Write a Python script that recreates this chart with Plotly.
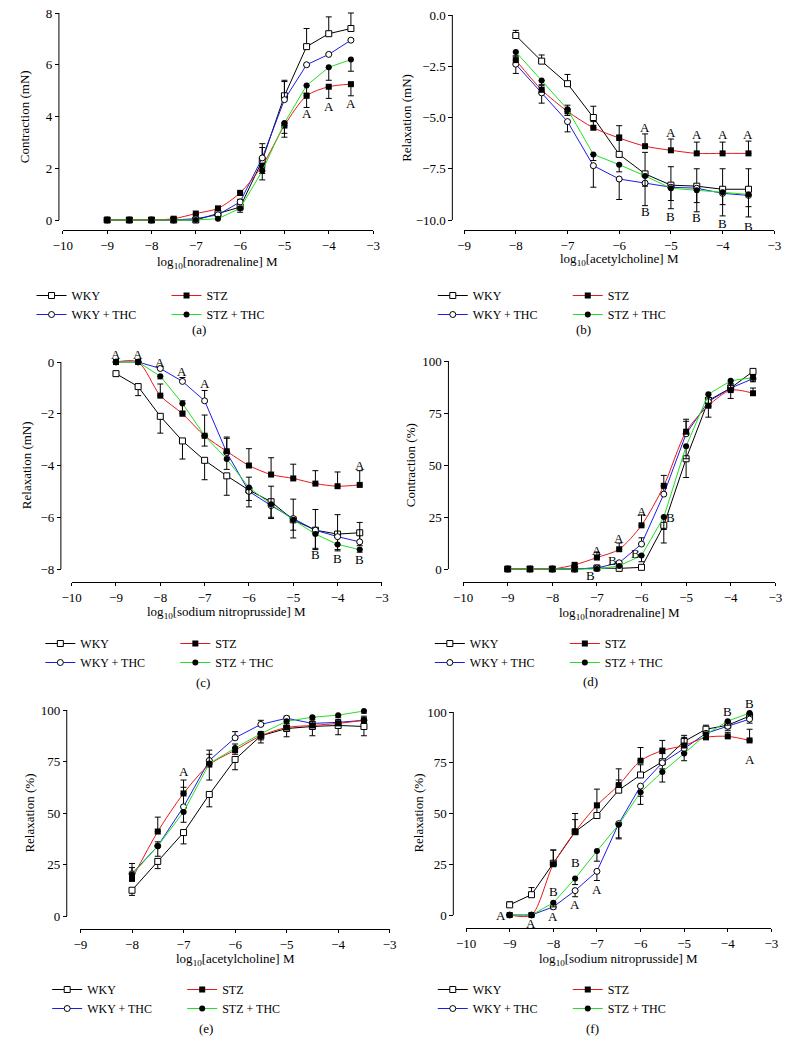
import plotly.graph_objects as go

W, H = 796, 1055
FONT = "Liberation Serif"

# ------------------------------------------------------------------ data
names = ["WKY", "WKY + THC", "STZ", "STZ + THC"]

# (a) noradrenaline, contraction (mN)
x_a = [-9, -8.5, -8, -7.5, -7, -6.5, -6, -5.5, -5, -4.5, -4, -3.5]
a_wky = [0, 0, 0, 0, 0, 0.25, 0.5, 2.3, 4.8, 6.7, 7.2, 7.4]
a_wky_thc = [0, 0, 0, 0, 0.05, 0.2, 0.7, 2.4, 4.65, 6.0, 6.4, 6.95]
a_stz = [0, 0, 0, 0.05, 0.25, 0.45, 1.05, 2.1, 3.65, 4.8, 5.15, 5.25]
a_stz_thc = [0, 0, 0, 0, 0, 0.05, 0.45, 1.9, 3.75, 5.2, 5.9, 6.2]
a_wky_err = [0, 0, 0, 0, 0, 0, 0.1, 0.65, 0.6, 0.7, 0.65, 0.6]
a_wky_thc_err = [0, 0, 0, 0, 0, 0, 0.1, 0.4, 0.7, 0, 0, 0]
a_stz_err = [0, 0, 0, 0, 0.05, 0.05, 0.1, 0.3, 0.45, 0.45, 0.45, 0.45]
a_stz_thc_err = [0, 0, 0, 0, 0, 0, 0.15, 0.35, 0.4, 0.3, 0.5, 0.45]
a_lab_x = [-4.5, -4, -3.5]
a_lab_y = [4.1, 4.4, 4.5]
a_lab_t = ["A", "A", "A"]

# (b) acetylcholine, relaxation (mN)
x_b = [-8, -7.5, -7, -6.5, -6, -5.5, -5, -4.5, -4, -3.5]
b_wky = [-1.0, -2.25, -3.35, -5.0, -6.8, -7.75, -8.3, -8.35, -8.5, -8.5]
b_wky_thc = [-2.4, -3.8, -5.2, -7.35, -8.0, -8.2, -8.4, -8.45, -8.7, -8.8]
b_stz = [-2.2, -3.65, -4.7, -5.5, -6.0, -6.4, -6.6, -6.75, -6.75, -6.75]
b_stz_thc = [-1.8, -3.2, -4.6, -6.8, -7.3, -7.85, -8.45, -8.55, -8.65, -8.75]
b_wky_err = [0.25, 0.3, 0.45, 0.55, 0.95, 1.05, 0.9, 0.85, 1.0, 1.0]
b_wky_thc_err = [0.45, 0.5, 0.5, 1.05, 1.0, 1.1, 1.05, 1.15, 1.1, 1.05]
b_stz_err = [0.2, 0.2, 0.3, 0.3, 0.6, 0.6, 0.55, 0.55, 0.55, 0.6]
b_stz_thc_err = [0.2, 0.2, 0.3, 0.3, 0.35, 0.5, 0.6, 0.6, 0.6, 0.6]
b_lab_x = [-5.5, -5, -4.5, -4, -3.5, -5.5, -5, -4.5, -4, -3.5]
b_lab_y = [-5.5, -5.75, -5.85, -5.85, -5.85, -9.6, -9.85, -9.9, -10.15, -10.3]
b_lab_t = ["A", "A", "A", "A", "A", "B", "B", "B", "B", "B"]

# (c) sodium nitroprusside, relaxation (mN)
x_c = [-9, -8.5, -8, -7.5, -7, -6.5, -6, -5.5, -5, -4.5, -4, -3.5]
c_wky = [-0.45, -0.95, -2.1, -3.05, -3.8, -4.4, -4.95, -5.4, -6.1, -6.5, -6.65, -6.6]
c_wky_thc = [0, 0, -0.25, -0.75, -1.5, -3.5, -5.0, -5.55, -6.05, -6.5, -6.75, -6.95]
c_stz = [0, 0, -1.3, -2.0, -2.85, -3.45, -4.0, -4.35, -4.5, -4.7, -4.8, -4.75]
c_stz_thc = [0, 0, -0.55, -1.6, -2.85, -3.75, -4.85, -5.5, -6.1, -6.65, -7.05, -7.25]
c_wky_err = [0.1, 0.35, 0.65, 0.7, 0.75, 0.75, 0.65, 0.65, 0.7, 0.7, 0.6, 0.5]
c_wky_thc_err = [0, 0, 0.05, 0.15, 0.4, 0.6, 0.55, 0.75, 0.75, 0.8, 0.85, 0.75]
c_stz_err = [0, 0, 0.45, 0.5, 0.8, 0.5, 0.65, 0.65, 0.55, 0.5, 0.55, 0.55]
c_stz_thc_err = [0, 0, 0.1, 0.3, 0.4, 0.4, 0.5, 0.5, 0.4, 0.6, 0.25, 0.1]
c_lab_x = [-9, -8.5, -8, -7.5, -7, -3.5, -4.5, -4, -3.5]
c_lab_y = [0.3, 0.3, 0.0, -0.35, -0.85, -4.0, -7.45, -7.6, -7.65]
c_lab_t = ["A", "A", "A", "A", "A", "A", "B", "B", "B"]

# (d) noradrenaline, contraction (%)
x_d = [-9, -8.5, -8, -7.5, -7, -6.5, -6, -5.5, -5, -4.5, -4, -3.5]
d_wky = [0, 0, 0, 0, 0.5, 0.3, 0.8, 21, 53, 81, 87, 95]
d_wky_thc = [0, 0, 0, 0, 0.5, 3, 12, 36, 65, 80.5, 87, 91.5]
d_stz = [0, 0, 0, 2, 5.5, 9.5, 21, 40, 66, 78.5, 86, 84.5]
d_stz_thc = [0, 0, 0, 0, 0, 1.5, 6.5, 25, 59, 84, 90.5, 92]
d_wky_err = [0, 0, 0, 0, 0, 0, 0, 8.5, 9, 8, 5, 2]
d_wky_thc_err = [0, 0, 0, 0, 0, 0.5, 3, 4, 7, 2, 2, 2]
d_stz_err = [0, 0, 0, 0.3, 2.5, 3, 5, 5, 5, 4, 3, 2.5]
d_stz_thc_err = [0, 0, 0, 0, 0, 0, 3, 6, 6, 6, 4, 2]
d_lab_x = [-7, -6.5, -6, -7.15, -6.64, -6.13, -5.35]
d_lab_y = [9, 14.7, 27.5, -3.2, 4.3, 7.5, 25]
d_lab_t = ["A", "A", "A", "B", "B", "B", "B"]

# (e) acetylcholine, relaxation (%)
x_e = [-8, -7.5, -7, -6.5, -6, -5.5, -5, -4.5, -4, -3.5]
e_wky = [12.5, 26.5, 40.5, 59, 76, 87.5, 91, 92, 92.5, 92]
e_wky_thc = [20.5, 34, 53, 75.5, 86.5, 93, 96, 93.5, 94, 95]
e_stz = [18, 41, 59.5, 73.5, 80.5, 87.5, 91.5, 92.5, 93.5, 95]
e_stz_thc = [20, 34, 50.5, 74, 81.5, 88.5, 94.5, 96.5, 97.5, 99.5]
e_wky_err = [2.5, 3.5, 5.5, 6, 5, 3.5, 4, 4.5, 4.5, 4.5]
e_wky_thc_err = [3, 2, 13, 3, 3, 2, 1, 1, 1, 1]
e_stz_err = [7.5, 7, 3, 7, 3, 2, 2, 2, 2, 2]
e_stz_thc_err = [2, 5, 5, 8, 3, 3, 2, 1, 1, 1]
e_lab_x = [-7]
e_lab_y = [70]
e_lab_t = ["A"]

# (f) sodium nitroprusside, relaxation (%)
x_f = [-9, -8.5, -8, -7.5, -7, -6.5, -6, -5.5, -5, -4.5, -4, -3.5]
f_wky = [5, 10, 25.5, 41, 49, 61.5, 69, 75.5, 85.5, 91.5, 93.5, 98]
f_wky_thc = [0, 0, 4, 12, 21.5, 45, 63.5, 75, 82, 89.5, 93, 96.5]
f_stz = [0, 0, 25, 41, 54, 64, 76, 81, 83.5, 87.5, 88, 86]
f_stz_thc = [0, 0, 6, 18, 31.5, 44.5, 60.5, 70.5, 79.5, 89, 95.5, 99.5]
f_wky_err = [1.5, 3.5, 6.5, 6, 6, 5, 5, 4, 3, 2, 2, 1]
f_wky_thc_err = [0, 0, 1, 3, 4.5, 7, 5, 3, 2, 2, 2, 2]
f_stz_err = [0, 0, 7, 9, 8, 8, 6.5, 5, 4, 2, 2, 5.5]
f_stz_thc_err = [0, 0, 2, 3, 5, 7, 6, 5, 3.5, 2, 2, 1]
f_lab_x = [-9.2, -8.5, -8, -8, -7.5, -7.5, -7, -4, -3.5, -3.5]
f_lab_y = [0, -4.4, 11.8, -0.8, 25.8, 5.3, 12.7, 100.3, 104, 76.5]
f_lab_t = ["A", "A", "B", "A", "B", "A", "A", "B", "B", "A"]

x_titles = ["noradrenaline", "acetylcholine", "sodium nitroprusside",
            "noradrenaline", "acetylcholine", "sodium nitroprusside"]
y_titles = ["Contraction (mN)", "Relaxation (mN)", "Relaxation (mN)",
            "Contraction (%)", "Relaxation (%)", "Relaxation (%)"]
panel_tags = ["(a)", "(b)", "(c)", "(d)", "(e)", "(f)"]

y_ticks_a = [0, 2, 4, 6, 8]
y_ticks_b = [0, -2.5, -5, -7.5, -10]
y_ticks_c = [0, -2, -4, -6, -8]
y_ticks_pct = [0, 25, 50, 75, 100]

# ------------------------------------------------------------------ styles
styles = [
    dict(color="black", shape="linear",
         marker=dict(symbol="square", size=6, color="white", line=dict(color="black", width=1)),
         group="g1"),
    dict(color="#1c1ce8", shape="linear",
         marker=dict(symbol="circle", size=6, color="white", line=dict(color="black", width=1)),
         group="g1"),
    dict(color="#e81818", shape="spline",
         marker=dict(symbol="square", size=6, color="black", line=dict(color="black", width=0)),
         group="g2"),
    dict(color="#22e022", shape="linear",
         marker=dict(symbol="circle", size=6, color="black", line=dict(color="black", width=0)),
         group="g2"),
]


def minus(v, fmt):
    return fmt.format(v).replace("-", "\u2212")


def fx(px):
    return px / W


def fy(py):
    return 1 - py / H


panels = [
    dict(x=x_a, ys=[a_wky, a_wky_thc, a_stz, a_stz_thc],
         errs=[a_wky_err, a_wky_thc_err, a_stz_err, a_stz_thc_err],
         dirs=[1, 1, -1, -1],
         lab=(a_lab_x, a_lab_y, a_lab_t), xr=(-10, -3), xp=(54, 371), xline=230,
         yt=y_ticks_a, yfmt="{:g}", ytop=(8, 13), ybot=(0, 220), yline=50, ypad=0.5,
         ytitle_x=15, xtitle_y=262, leg=(41, 294), tag=(193, 329)),
    dict(x=x_b, ys=[b_wky, b_wky_thc, b_stz, b_stz_thc],
         errs=[b_wky_err, b_wky_thc_err, b_stz_err, b_stz_thc_err],
         dirs=[1, -1, 1, -1],
         lab=(b_lab_x, b_lab_y, b_lab_t), xr=(-9, -3), xp=(464, 781), xline=230,
         yt=y_ticks_b, yfmt="{:.1f}", ytop=(0, 15), ybot=(-10, 220), yline=452, ypad=0.6,
         ytitle_x=405, xtitle_y=259, leg=(451, 294), tag=(586, 329)),
    dict(x=x_c, ys=[c_wky, c_wky_thc, c_stz, c_stz_thc],
         errs=[c_wky_err, c_wky_thc_err, c_stz_err, c_stz_thc_err],
         dirs=[-1, 1, 1, -1],
         lab=(c_lab_x, c_lab_y, c_lab_t), xr=(-10, -3), xp=(63, 380), xline=582,
         yt=y_ticks_c, yfmt="{:g}", ytop=(0, 362), ybot=(-8, 569), yline=52, ypad=0.5,
         ytitle_x=17, xtitle_y=612, leg=(50, 642), tag=(197, 682)),
    dict(x=x_d, ys=[d_wky, d_wky_thc, d_stz, d_stz_thc],
         errs=[d_wky_err, d_wky_thc_err, d_stz_err, d_stz_thc_err],
         dirs=[-1, 1, 1, -1],
         lab=(d_lab_x, d_lab_y, d_lab_t), xr=(-10, -3), xp=(463, 782), xline=582,
         yt=y_ticks_pct, yfmt="{:g}", ytop=(100, 361), ybot=(0, 569), yline=448, ypad=6,
         ytitle_x=409, xtitle_y=613, leg=(448, 642), tag=(593, 681)),
    dict(x=x_e, ys=[e_wky, e_wky_thc, e_stz, e_stz_thc],
         errs=[e_wky_err, e_wky_thc_err, e_stz_err, e_stz_thc_err],
         dirs=[-1, 1, 1, -1],
         lab=(e_lab_x, e_lab_y, e_lab_t), xr=(-9, -3), xp=(72, 388), xline=929,
         yt=y_ticks_pct, yfmt="{:g}", ytop=(100, 710), ybot=(0, 916), yline=58, ypad=6,
         ytitle_x=19, xtitle_y=959, leg=(57, 988), tag=(200, 1028)),
    dict(x=x_f, ys=[f_wky, f_wky_thc, f_stz, f_stz_thc],
         errs=[f_wky_err, f_wky_thc_err, f_stz_err, f_stz_thc_err],
         dirs=[1, -1, 1, -1],
         lab=(f_lab_x, f_lab_y, f_lab_t), xr=(-10, -3), xp=(466, 778), xline=928,
         yt=y_ticks_pct, yfmt="{:g}", ytop=(100, 712), ybot=(0, 915), yline=453, ypad=6,
         ytitle_x=417, xtitle_y=959, leg=(451, 988), tag=(595, 1028)),
]

fig = go.Figure()
annotations = []
shapes = []
layout = {}

for i, p in enumerate(panels):
    n = i + 1
    xa = "x" if n == 1 else f"x{n}"
    ya = "y" if n == 1 else f"y{n}"
    xkey = "xaxis" if n == 1 else f"xaxis{n}"
    ykey = "yaxis" if n == 1 else f"yaxis{n}"
    leg = "legend" if n == 1 else f"legend{n}"

    vt, pt = p["ytop"]
    vb, pb = p["ybot"]
    s = (pb - pt) / (vt - vb)
    lo, hi = vb - p["ypad"], vt + p["ypad"]
    p_lo = pb + (vb - lo) * s
    p_hi = pt - (hi - vt) * s
    ydom = [fy(p_lo), fy(p_hi)]
    xdom = [fx(p["xp"][0]), fx(p["xp"][1])]

    xt = list(range(p["xr"][0], p["xr"][1] + 1))
    layout[xkey] = dict(
        domain=xdom, range=list(p["xr"]), anchor="free", position=fy(p["xline"]),
        tickvals=xt, ticktext=[minus(v, "{:d}") for v in xt],
        ticks="outside", ticklen=3, tickwidth=1, tickcolor="black",
        showline=True, linecolor="black", linewidth=1, showgrid=False, zeroline=False,
        tickfont=dict(family=FONT, size=13, color="black"), fixedrange=True,
    )
    layout[ykey] = dict(
        domain=ydom, range=[lo, hi], anchor="free", position=fx(p["yline"]),
        tickvals=p["yt"], ticktext=[minus(v, p["yfmt"]) for v in p["yt"]],
        ticks="outside", ticklen=4, tickwidth=1, tickcolor="black",
        showline=False, showgrid=False, zeroline=False,
        tickfont=dict(family=FONT, size=13, color="black"), fixedrange=True,
    )
    shapes.append(dict(type="line", xref="paper", yref=ya,
                       x0=fx(p["yline"]), x1=fx(p["yline"]),
                       y0=min(p["yt"]), y1=max(p["yt"]),
                       line=dict(color="black", width=1)))

    for k in range(4):
        st = styles[k]
        err = p["errs"][k]
        zero = [0] * len(err)
        up, dn = (err, zero) if p["dirs"][k] > 0 else (zero, err)
        fig.add_trace(go.Scatter(
            x=p["x"], y=p["ys"][k], name=names[k], mode="lines+markers",
            xaxis=xa, yaxis=ya, legend=leg, legendgroup=f"{st['group']}_{n}",
            line=dict(color=st["color"], width=1, shape=st["shape"], smoothing=0.8),
            marker=st["marker"], cliponaxis=False,
            error_y=dict(type="data", symmetric=False, array=up, arrayminus=dn,
                         color="black", thickness=1, width=3),
        ))

    lx, ly, lt = p["lab"]
    for xv, yv, tv in zip(lx, ly, lt):
        annotations.append(dict(x=xv, y=yv, xref=xa, yref=ya, text=tv, showarrow=False,
                                font=dict(family=FONT, size=13, color="black")))

    xmid = (p["xp"][0] + p["xp"][1]) / 2
    annotations.append(dict(x=fx(xmid), y=fy(p["xtitle_y"]), xref="paper", yref="paper",
                            text=f"log<sub>10</sub>[{x_titles[i]}] M", showarrow=False,
                            xanchor="center", yanchor="middle",
                            font=dict(family=FONT, size=13, color="black")))
    ymid = (pt + pb) / 2
    annotations.append(dict(x=fx(p["ytitle_x"]), y=fy(ymid), xref="paper", yref="paper",
                            text=y_titles[i], textangle=-90, showarrow=False,
                            xanchor="center", yanchor="middle",
                            font=dict(family=FONT, size=13, color="black")))
    annotations.append(dict(x=fx(p["tag"][0]), y=fy(p["tag"][1]), xref="paper", yref="paper",
                            text=panel_tags[i], showarrow=False,
                            xanchor="center", yanchor="middle",
                            font=dict(family=FONT, size=13, color="black")))

    # legend: reference symbol start (x) and first row centre (y)
    layout[leg] = dict(
        x=fx(p["leg"][0] - 19), y=fy(p["leg"][1] - 13), xanchor="left", yanchor="top",
        orientation="h", traceorder="grouped", tracegroupgap=0,
        entrywidth=90, entrywidthmode="pixels",
        bgcolor="rgba(0,0,0,0)", itemclick=False, itemdoubleclick=False,
        font=dict(family=FONT, size=12, color="black"),
    )

fig.update_layout(
    width=W, height=H, margin=dict(l=0, r=0, t=0, b=0),
    paper_bgcolor="white", plot_bgcolor="white",
    font=dict(family=FONT, size=13, color="black"),
    annotations=annotations, shapes=shapes, **layout,
)

fig.write_html("out.html", config={"displayModeBar": False},
               post_script="document.body.style.margin='0px';")
